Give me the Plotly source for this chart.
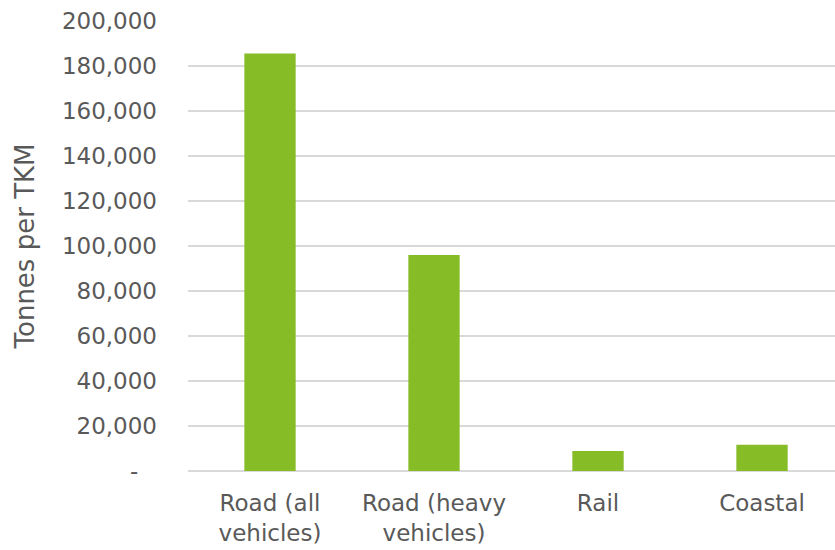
import plotly.graph_objects as go

# Freight moved by mode
categories = ["Road (all<br>vehicles)", "Road (heavy<br>vehicles)", "Rail", "Coastal"]
tonnes_per_tkm = [185600, 96000, 8900, 11700]

y_tick_values = [0, 20000, 40000, 60000, 80000, 100000, 120000, 140000, 160000, 180000, 200000]
# accounting-style zero: a dash padded away from the right edge
y_tick_labels = ["-\u2002\u00a0", "20,000", "40,000", "60,000", "80,000", "100,000", "120,000",
                 "140,000", "160,000", "180,000", "200,000"]

font_family = "DejaVu Sans, Verdana, sans-serif"
text_color = "#595959"
grid_color = "#d9d9d9"

fig = go.Figure(
    go.Bar(
        x=categories,
        y=tonnes_per_tkm,
        marker=dict(color="#86BC25", line=dict(width=0)),
        width=0.313,
        hoverinfo="x+y",
    )
)

fig.update_layout(
    width=835,
    height=550,
    margin=dict(l=188, r=0, t=21, b=79),
    paper_bgcolor="white",
    plot_bgcolor="white",
    showlegend=False,
    font=dict(family=font_family, color=text_color, size=23),
)

fig.update_xaxes(
    range=[-0.5, 3.445],
    showgrid=False,
    showline=False,
    zeroline=False,
    ticks="",
    tickfont=dict(size=23, color=text_color),
    ticklabelstandoff=16,
)

fig.update_yaxes(
    range=[0, 200000],
    tickvals=y_tick_values,
    ticktext=y_tick_labels,
    showgrid=True,
    gridcolor=grid_color,
    gridwidth=2,
    zeroline=True,
    zerolinecolor=grid_color,
    zerolinewidth=2,
    showline=False,
    ticks="",
    tickfont=dict(size=23, color=text_color),
    ticklabelstandoff=30,
    title=dict(text="Tonnes per TKM", font=dict(size=26, color=text_color), standoff=19),
)

fig.write_html("out.html")
